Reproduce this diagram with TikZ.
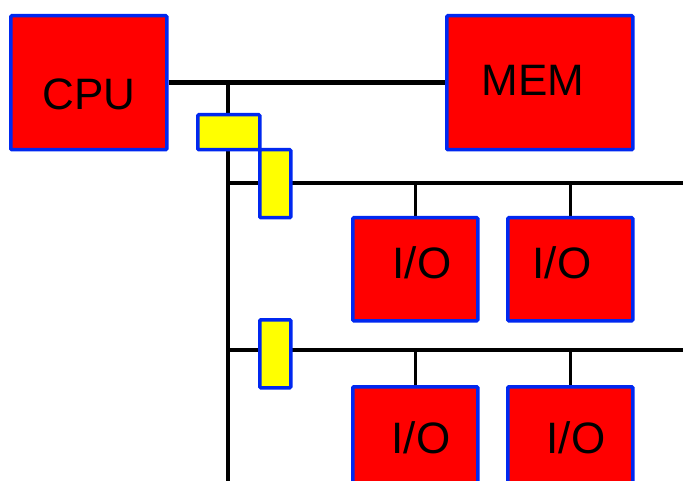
\documentclass[tikz,border=0pt]{standalone}
\usepackage{fontspec}
\setmainfont{Liberation Sans}
\definecolor{boxred}{RGB}{255,0,0}
\definecolor{boxblue}{RGB}{0,40,240}
\definecolor{boxyellow}{RGB}{255,255,0}
\pgfdeclarelayer{back}
\pgfsetlayers{back,main}
\begin{document}
\begin{tikzpicture}[x=1pt,y=-1pt,
  redbox/.style={draw=boxblue,fill=boxred,line width=3.5pt,rounded corners=1pt,inner sep=0pt,anchor=north west},
  yelbox/.style={draw=boxblue,fill=boxyellow,line width=3.5pt,rounded corners=1pt,inner sep=0pt,anchor=north west},
  lbl/.style={font=\fontsize{44}{44}\selectfont,inner sep=0pt,anchor=base},
  bus/.style={line width=3.5pt},
  mainbus/.style={line width=5.5pt}]
\useasboundingbox (0,0) rectangle (683,481);
\clip (0,0) rectangle (683,481);
% bus end points
\coordinate (vtop) at (228,81);
\coordinate (vbot) at (228,485);
\coordinate (b1l) at (228,183);
\coordinate (b1r) at (690,183);
\coordinate (b2l) at (228,350);
\coordinate (b2r) at (690,350);
% boxes
\node[redbox,minimum width=156pt,minimum height=134pt] (cpu) at (9,14) {};
\node[redbox,minimum width=186pt,minimum height=134pt] (mem) at (445,14) {};
\node[redbox,minimum width=125pt,minimum height=103pt] (io1) at (351,216) {};
\node[redbox,minimum width=125pt,minimum height=103pt] (io2) at (506,216) {};
\node[redbox,minimum width=125pt,minimum height=103pt] (io3) at (351,385) {};
\node[redbox,minimum width=125pt,minimum height=103pt] (io4) at (506,385) {};
% bridges
\node[yelbox,minimum width=62pt,minimum height=35pt] (br0) at (196,113) {};
\node[yelbox,minimum width=31pt,minimum height=68pt] (br1) at (258,148) {};
\node[yelbox,minimum width=31pt,minimum height=68pt] (br2) at (258,318) {};
% lines behind the boxes
\begin{pgfonlayer}{back}
\draw[mainbus] (cpu.east) -- (mem.west);
\draw[bus] (vtop) -- (vbot);
\draw[bus] (b1l) -- (b1r);
\draw[bus] (b2l) -- (b2r);
\draw[bus] (io1.north) -- (io1.north |- b1l);
\draw[bus] (io2.north) -- (io2.north |- b1l);
\draw[bus] (io3.north) -- (io3.north |- b2l);
\draw[bus] (io4.north) -- (io4.north |- b2l);
\end{pgfonlayer}
% labels
\node[lbl] (tcpu) at (89,110) {CPU};
\node[lbl] (tmem) at (533,96) {MEM};
\node[lbl] (tio1) at (422,279) {I/O};
\node[lbl] (tio2) at (562,279) {I/O};
\node[lbl] (tio3) at (421,453) {I/O};
\node[lbl] (tio4) at (576,453) {I/O};
\end{tikzpicture}
\end{document}
